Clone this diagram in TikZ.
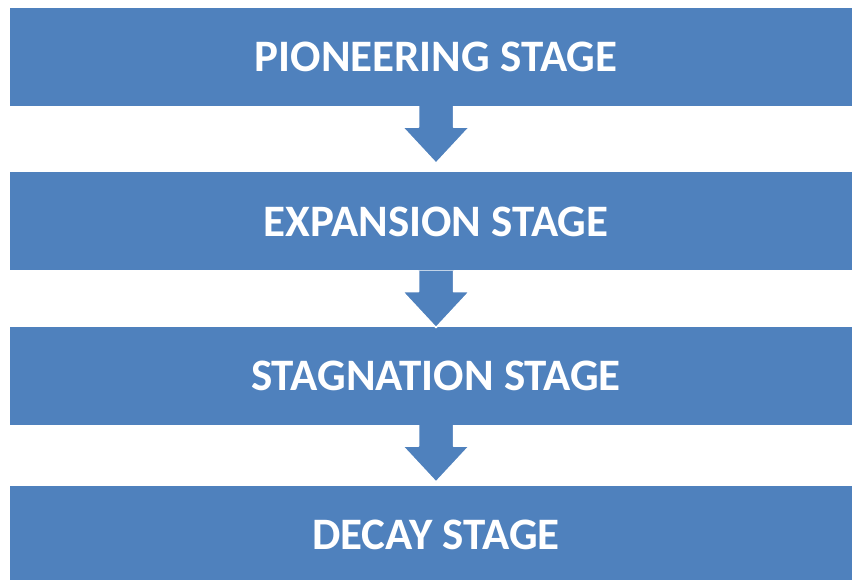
\documentclass[tikz,border=0pt]{standalone}
\usepackage{fontspec}
\setmainfont{Carlito}
\usetikzlibrary{positioning}
\definecolor{stageblue}{HTML}{4F81BD}

\begin{document}
\begin{tikzpicture}[x=1pt, y=-1pt,
    stagebox/.style={fill=stageblue, text=white, font=\fontsize{45}{52}\selectfont\bfseries, minimum width=852pt, minimum height=98pt, inner sep=0pt},
    flowarrow/.style={fill=stageblue, draw=white, line width=1.5pt, line join=round}]
        \useasboundingbox (0,0) rectangle (852,579);
        \node[stagebox] (pioneer) at (436,57) {PIONEERING STAGE};
        \node[stagebox, below=66pt of pioneer] (expansion) {EXPANSION STAGE};
        \node[stagebox, below=56pt of expansion] (stagnation) {STAGNATION STAGE};
        \node[stagebox, below=61pt of stagnation] (decay) {DECAY STAGE};
        \foreach \n in {pioneer, expansion, stagnation}
            \filldraw[flowarrow, shift={(\n.south)}] (-17.5,0) -- (-17.5,21) -- (-33.5,21) -- (0,57) -- (33.5,21) -- (17.5,21) -- (17.5,0);
    \end{tikzpicture}
\end{document}
